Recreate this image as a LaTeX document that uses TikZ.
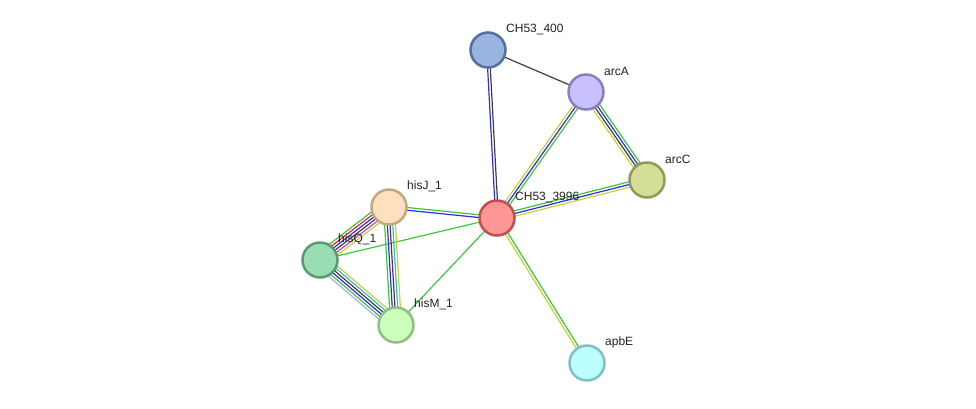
\documentclass[tikz,border=0pt]{standalone}
\usepackage{fontspec}
\setmainfont{Liberation Sans}
\usetikzlibrary{calc}
\pgfdeclarelayer{bg}
\pgfsetlayers{bg,main}
\definecolor{eg}{HTML}{3CC83C}
\definecolor{ey}{HTML}{C2D434}
\definecolor{eb}{HTML}{2E2EE6}
\definecolor{ek}{HTML}{404040}
\definecolor{ec}{HTML}{3CB4D8}
\definecolor{em}{HTML}{D23CD2}
\definecolor{er}{HTML}{E62828}
\definecolor{el}{HTML}{AAAAFF}
\definecolor{labc}{HTML}{222222}
\tikzset{
  prot/.style={circle, minimum size=35pt, line width=2.5pt, inner sep=0pt},
  lab/.style={anchor=west, font=\fontsize{12}{14}\selectfont, text=labc, inner sep=0pt},
  eline/.style={line width=1.2pt}
}
\newcommand\multiedge[3]{%
  \foreach \col [count=\i] in {#3} {\xdef\nlines{\i}}%
  \foreach \col [count=\i] in {#3} {%
    \pgfmathsetmacro\off{(\i-(\nlines+1)/2)*2.7}%
    \draw[eline, draw=\col] ($(#1.center)!\off pt!90:(#2.center)$) -- ($(#2.center)!\off pt!-90:(#1.center)$);%
  }%
}
\begin{document}
\begin{tikzpicture}[x=1pt,y=-1pt]
\useasboundingbox (0,0) rectangle (976,408);
\begin{scope}[yshift=-1pt]
\node[prot, fill={rgb,255:red,154;green,180;blue,224}, draw={rgb,255:red,85;green,112;blue,160}] (c400) at (488,49) {};
\node[prot, fill={rgb,255:red,200;green,192;blue,255}, draw={rgb,255:red,138;green,128;blue,192}] (arcA) at (586,91) {};
\node[prot, fill={rgb,255:red,212;green,222;blue,152}, draw={rgb,255:red,144;green,154;blue,80}] (arcC) at (647,179) {};
\node[prot, fill={rgb,255:red,255;green,150;blue,150}, draw={rgb,255:red,192;green,80;blue,80}] (c3996) at (497,217) {};
\node[prot, fill={rgb,255:red,255;green,224;blue,188}, draw={rgb,255:red,192;green,168;blue,128}] (hisJ) at (389,206) {};
\node[prot, fill={rgb,255:red,153;green,221;blue,180}, draw={rgb,255:red,90;green,154;blue,112}] (hisQ) at (320,259) {};
\node[prot, fill={rgb,255:red,204;green,255;blue,187}, draw={rgb,255:red,144;green,192;blue,128}] (hisM) at (396,324) {};
\node[prot, fill={rgb,255:red,187;green,255;blue,255}, draw={rgb,255:red,128;green,192;blue,192}] (apbE) at (587,362) {};

\node[lab] (l400) at (506,28) {CH53\_400};
\node[lab] (lA) at (604,70) {arcA};
\node[lab] (lC) at (665,158) {arcC};
\node[lab] (l3996) at (515,196) {CH53\_3996};
\node[lab] (lJ) at (407,185) {hisJ\_1};
\node[lab] (lQ) at (338,238) {hisQ\_1};
\node[lab] (lM) at (414,303) {hisM\_1};
\node[lab] (lE) at (605,341) {apbE};
\end{scope}

\begin{pgfonlayer}{bg}
\multiedge{c400}{arcA}{ek}
\multiedge{c400}{c3996}{eb,ek}
\multiedge{arcA}{c3996}{ey,eb,eg}
\multiedge{arcA}{arcC}{ey,ek,eb,eg}
\multiedge{c3996}{arcC}{ey,eb,eg}
\multiedge{c3996}{apbE}{ey,eg}
\multiedge{hisJ}{c3996}{eb,eg}
\multiedge{c3996}{hisQ}{eg}
\multiedge{c3996}{hisM}{eg}
\multiedge{hisJ}{hisQ}{eg,er,eb,ek,em,ey}
\multiedge{hisJ}{hisM}{eg,eb,ek,ec,ey}
\multiedge{hisQ}{hisM}{el,eg,eb,ek,ec,ey}
\end{pgfonlayer}
\end{tikzpicture}
\end{document}
